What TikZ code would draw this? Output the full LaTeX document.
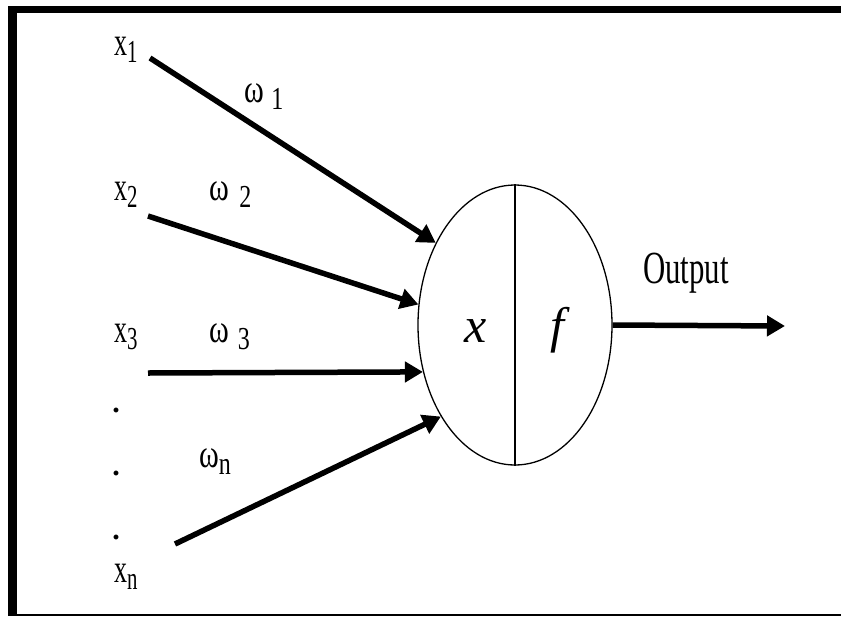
\documentclass[tikz,border=0pt]{standalone}
\usepackage{fontspec}
\setmainfont{Liberation Serif}
\usepackage{graphicx}
\usetikzlibrary{shapes.geometric,arrows.meta}
\newcommand\cnd[2][0.65]{\scalebox{#1}[1]{#2}}
\newcommand\lbsub[1]{\raisebox{-7pt}{\fontsize{32}{36}\selectfont #1}}
\begin{document}
\begin{tikzpicture}[x=1pt,y=-1pt,
  lbl/.style={inner sep=0pt, anchor=base west, font=\fontsize{40}{48}\selectfont},
  dotlbl/.style={inner sep=0pt, anchor=center, font=\fontsize{30}{34}\selectfont\bfseries},
  wire/.style={line width=5.5pt, -{Triangle[length=18pt,width=20pt]}},
  frame/.style={fill=black},
  neuronstyle/.style={ellipse, draw, line width=1.3pt, minimum width=194pt, minimum height=280pt, inner sep=0pt}
]
\useasboundingbox (0,0) rectangle (841,619);
% frame
\fill[frame] (8,6) rectangle (841,13);
\fill[frame] (8,6) rectangle (17,616);
\fill[frame] (8,614) rectangle (841,616);

% neuron
\node[neuronstyle] (neuron) at (515,325) {};
\draw[line width=2.3pt] (neuron.north) -- (neuron.south);
\node[inner sep=0pt, anchor=base, font=\fontsize{50}{56}\selectfont\itshape] (xs) at (476,342) {x};
\node[inner sep=0pt, anchor=base, font=\fontsize{50}{56}\selectfont\itshape] (fs) at (557,342) {f};

% inputs
\coordinate (in1) at (150,58);
\coordinate (in2) at (148,216);
\coordinate (in3) at (148,373);
\coordinate (inn) at (175,544);
\coordinate (out) at (785,326);

\draw[wire] (in1) -- (neuron.134);
\draw[wire] (in2) -- (neuron.168);
\draw[wire] (in3) -- (neuron.207.8);
\draw[wire] (inn) -- (neuron.231.9);
\draw[wire] (neuron.east) -- (out);

% labels
\node[lbl] (x1) at (114,55) {\cnd{x\lbsub{1}}};
\node[lbl] (x2) at (114,200) {\cnd{x\lbsub{2}}};
\node[lbl] (x3) at (114,342) {\cnd{x\lbsub{3}}};
\node[lbl] (xn) at (114,582) {\cnd{x\lbsub{n}}};
\node[lbl] (w1) at (244,102) {\cnd[0.75]{ω\kern10pt\lbsub{1}}};
\node[lbl] (w2) at (209,200) {\cnd[0.75]{ω\kern14pt\lbsub{2}}};
\node[lbl] (w3) at (209,342) {\cnd[0.75]{ω\kern12pt\lbsub{3}}};
\node[lbl] (wn) at (199,467) {\cnd[0.75]{ω\lbsub{n}}};

\node[dotlbl] (d1) at (116,410) {.};
\node[dotlbl] (d2) at (116,473) {.};
\node[dotlbl] (d3) at (116,537) {.};

\node[inner sep=0pt, anchor=base west, font=\fontsize{46}{50}\selectfont] (outlbl) at (643,283) {\cnd[0.67]{Output}};
\end{tikzpicture}
\end{document}
